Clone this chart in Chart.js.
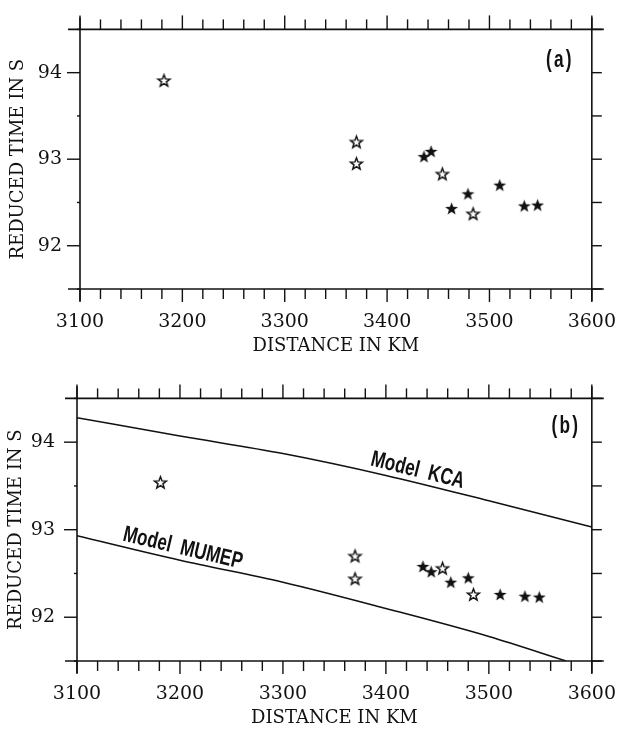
<!DOCTYPE html>
<html lang="en">
<head>
<meta charset="UTF-8">
<title>Reduced time vs distance</title>
<style>
  * { margin: 0; padding: 0; box-sizing: border-box; }
  body { background: #fff; width: 638px; height: 730px; overflow: hidden; }
  .panel { position: absolute; left: 0; }
  #panelA { top: 0; }
  #panelB { top: 365px; }
</style>
<script src="https://cdn.jsdelivr.net/npm/chart.js"></script>
</head>
<body>
<canvas id="panelA" class="panel" width="638" height="365"></canvas>
<canvas id="panelB" class="panel" width="638" height="365"></canvas>
<script>
// tick labels
const xTicks = [3100, 3200, 3300, 3400, 3500, 3600];
const yTicks = [92, 93, 94];

// panel (a): observed reduced times
const aOpenDist = [3182, 3370, 3370, 3454, 3484];
const aOpenTime = [93.91, 93.20, 92.95, 92.83, 92.37];
const aFilledDist = [3436, 3443, 3463, 3479, 3510, 3534, 3547];
const aFilledTime = [93.03, 93.09, 92.43, 92.60, 92.70, 92.46, 92.47];

// panel (b): same stations, other reduction
const bOpenDist = [3181, 3370, 3370, 3455, 3485];
const bOpenTime = [93.54, 92.70, 92.44, 92.56, 92.26];
const bFilledDist = [3436, 3444, 3463, 3480, 3511, 3535, 3549];
const bFilledTime = [92.58, 92.52, 92.40, 92.45, 92.26, 92.24, 92.23];

// model curves in panel (b)
const kcaDist = [3100, 3200, 3300, 3400, 3500, 3600];
const kcaTime = [94.28, 94.07, 93.87, 93.62, 93.33, 93.03];
const mumepDist = [3100, 3200, 3300, 3400, 3500, 3575];
const mumepTime = [92.93, 92.65, 92.40, 92.10, 91.78, 91.50];

const INK = '#111';
const serif = '"DejaVu Serif", serif';

function pts(xs, ys) {
    return xs.map((x, i) => ({ x: x, y: ys[i] }));
}

// five pointed star marker
function makeStar(filled) {
    const c = document.createElement('canvas');
    c.width = 17; c.height = 17;
    const g = c.getContext('2d');
    const R = filled ? 6.8 : 6.2, r = filled ? 2.8 : 2.6;
    g.beginPath();
    for (let i = 0; i < 10; i++) {
        const rad = i % 2 ? r : R;
        const a = -Math.PI / 2 + i * Math.PI / 5;
        const px = 8.5 + rad * Math.cos(a), py = 9 + rad * Math.sin(a);
        if (i) g.lineTo(px, py); else g.moveTo(px, py);
    }
    g.closePath();
    if (filled) {
        g.fillStyle = INK; g.fill();
    } else {
        g.fillStyle = '#fff'; g.fill();
        g.lineWidth = 1.5; g.strokeStyle = INK; g.stroke();
    }
    return c;
}
const openStar = makeStar(false);
const filledStar = makeStar(true);

// box frame with outward ticks, lines run a little past the corners
const frame = {
    id: 'frame',
    afterDraw(chart, args, o) {
        const ctx = chart.ctx, a = chart.chartArea;
        const xs = chart.scales.x, ys = chart.scales.y;
        const line = (x1, y1, x2, y2) => { ctx.beginPath(); ctx.moveTo(x1, y1); ctx.lineTo(x2, y2); ctx.stroke(); };
        ctx.save();
        ctx.strokeStyle = INK;
        ctx.lineWidth = 1.6;
        const ext = 12;
        line(a.left - ext, a.top, a.right + ext, a.top);
        line(a.left - ext, a.bottom, a.right + ext, a.bottom);
        line(a.left, a.top - ext, a.left, a.bottom + ext);
        line(a.right, a.top - ext, a.right, a.bottom + ext);
        ctx.lineWidth = 1.4;
        for (let v = xs.min; v <= xs.max + 1e-6; v += 20) {
            const px = xs.getPixelForValue(v);
            const major = Math.round(v) % 100 === 0;
            line(px, a.bottom, px, a.bottom + (major ? 13 : 10));
            line(px, a.top, px, a.top - (major ? 14 : 10));
        }
        for (let v = ys.min; v <= ys.max + 1e-6; v += 0.5) {
            const py = ys.getPixelForValue(v);
            const major = Math.abs(v - Math.round(v)) < 1e-6;
            line(a.left, py, a.left - (major ? o.leftMajor : o.leftMinor), py);
            line(a.right, py, a.right + 10, py);
        }
        ctx.restore();
    }
};

function curveAt(dist, time, d) {
    for (let i = 1; i < dist.length; i++) {
        if (d <= dist[i]) {
            const s = (time[i] - time[i - 1]) / (dist[i] - dist[i - 1]);
            return { v: time[i - 1] + s * (d - dist[i - 1]), slope: s };
        }
    }
    return null;
}

// panel letter and model names
const notes = {
    id: 'notes',
    afterDatasetsDraw(chart, args, o) {
        const ctx = chart.ctx, a = chart.chartArea;
        const xs = chart.scales.x, ys = chart.scales.y;
        ctx.save();
        ctx.fillStyle = INK;
        ctx.textAlign = 'center';
        ctx.textBaseline = 'middle';
        ctx.save();
        ctx.translate(a.right + o.panelDx, a.top + o.panelDy);
        ctx.scale(0.75, 1);
        ctx.font = 'bold 23px "Liberation Sans", Arial, sans-serif';
        ctx.letterSpacing = '3px';
        ctx.fillText(o.panel, 0, 0);
        ctx.restore();
        (o.models || []).forEach(m => {
            const c = curveAt(m.dist, m.time, m.at);
            const px = xs.getPixelForValue(m.at), py = ys.getPixelForValue(c.v);
            const qx = xs.getPixelForValue(m.at + 50), qy = ys.getPixelForValue(c.v + c.slope * 50);
            ctx.save();
            ctx.translate(px, py);
            ctx.rotate(Math.atan2(qy - py, qx - px));
            ctx.scale(0.74, 1);
            ctx.font = 'bold 23px "Liberation Sans", Arial, sans-serif';
            ctx.textBaseline = 'alphabetic';
            ctx.fillText(m.text, 0, -6);
            ctx.restore();
        });
        ctx.restore();
    }
};

function makePanel(id, p) {
    const starSet = (data, img) => ({
        data: data, showLine: false, pointStyle: img, pointRadius: 7, pointHoverRadius: 7
    });
    const curveSet = (data) => ({
        data: data, showLine: true, borderColor: INK, borderWidth: 1.5,
        pointRadius: 0, cubicInterpolationMode: 'monotone'
    });
    const datasets = [];
    (p.curves || []).forEach(c => datasets.push(curveSet(c)));
    datasets.push(starSet(p.open, openStar));
    datasets.push(starSet(p.filled, filledStar));

    return new Chart(document.getElementById(id), {
        type: 'scatter',
        data: { datasets: datasets },
        options: {
            responsive: false,
            animation: false,
            layout: { padding: p.padding },
            plugins: {
                legend: { display: false },
                tooltip: { enabled: false },
                frame: { leftMajor: p.leftMajor, leftMinor: p.leftMinor },
                notes: { panel: p.label, panelDx: p.labelDx, panelDy: p.labelDy, models: p.models }
            },
            scales: {
                x: {
                    type: 'linear', min: 3100, max: 3600,
                    afterBuildTicks: s => { s.ticks = xTicks.map(v => ({ value: v })); },
                    afterFit: s => { s.height = p.xHeight; },
                    grid: { display: false, drawTicks: false },
                    border: { display: false },
                    ticks: {
                        color: INK, font: { family: serif, size: 19 }, padding: 22,
                        maxRotation: 0, autoSkip: false, callback: v => String(v)
                    },
                    title: {
                        display: true, text: 'DISTANCE IN KM', color: INK,
                        font: { family: serif, size: 18 }, padding: { top: 0, bottom: p.xTitlePad }
                    }
                },
                y: {
                    type: 'linear', min: 91.5, max: 94.5,
                    afterBuildTicks: s => { s.ticks = yTicks.map(v => ({ value: v })); },
                    afterFit: s => { s.width = p.yWidth; },
                    grid: { display: false, drawTicks: false },
                    border: { display: false },
                    ticks: { color: INK, font: { family: serif, size: 19 }, padding: p.yTickPad, callback: v => String(v) },
                    title: {
                        display: true, text: 'REDUCED TIME IN S', color: INK,
                        font: { family: serif, size: 18 }, padding: { top: p.yTitlePad, bottom: 0 }
                    }
                }
            }
        },
        plugins: [frame, notes]
    });
}

makePanel('panelA', {
    open: pts(aOpenDist, aOpenTime),
    filled: pts(aFilledDist, aFilledTime),
    padding: { left: 0, top: 23, right: 25, bottom: 0 },
    yWidth: 80, xHeight: 76, xTitlePad: 7.7, yTitlePad: 7.7, yTickPad: 18,
    leftMajor: 13, leftMinor: 3,
    label: '(a)', labelDx: -32, labelDy: 31
});

makePanel('panelB', {
    curves: [pts(kcaDist, kcaTime), pts(mumepDist, mumepTime)],
    open: pts(bOpenDist, bOpenTime),
    filled: pts(bFilledDist, bFilledTime),
    padding: { left: 0, top: 30, right: 31, bottom: 0 },
    yWidth: 77, xHeight: 69, xTitlePad: 1.2, yTitlePad: 5.7, yTickPad: 22,
    leftMajor: 13, leftMinor: 3,
    label: '(b)', labelDx: -26, labelDy: 28,
    models: [
        { text: 'Model  KCA', dist: kcaDist, time: kcaTime, at: 3428 },
        { text: 'Model  MUMEP', dist: mumepDist, time: mumepTime, at: 3200 }
    ]
});
</script>
</body>
</html>
